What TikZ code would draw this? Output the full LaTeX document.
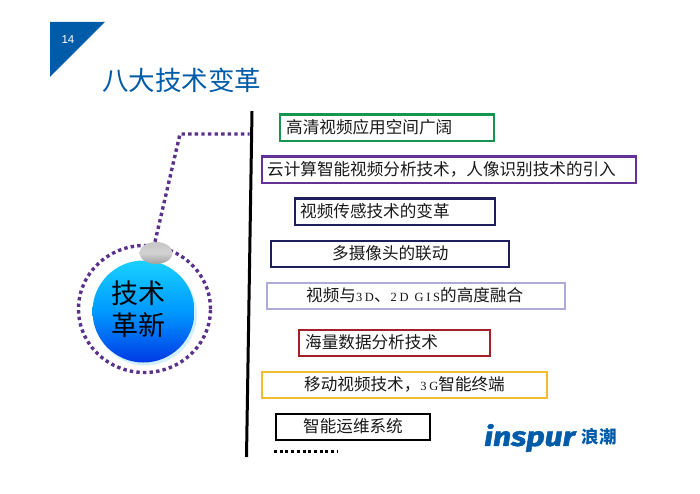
\documentclass[tikz,border=0pt]{standalone}
\usepackage{fontspec}
\setmainfont{Noto Sans CJK SC}
\newfontfamily\latinser{Liberation Serif}
\newfontfamily\latinsans{Liberation Sans}
\newfontfamily\logofont[FakeBold=1.6]{Fira Sans}
\usetikzlibrary{shapes.geometric,calc}
\definecolor{brandblue}{RGB}{0,92,169}
\definecolor{ringpurple}{RGB}{90,50,140}
\definecolor{boxgreen}{RGB}{20,150,80}
\definecolor{boxpurple}{RGB}{100,50,150}
\definecolor{boxnavy}{RGB}{30,30,95}
\definecolor{boxlav}{RGB}{175,170,220}
\definecolor{boxred}{RGB}{165,30,40}
\definecolor{boxgold}{RGB}{240,190,50}
\tikzset{
  itembox/.style={draw=#1,line width=2.2pt,minimum height=26.5pt,inner sep=0pt},
  itemtext/.style={anchor=west,inner sep=0pt,font=\fontsize{16.6pt}{18pt}\selectfont,text=black!90},
  purpledots/.style={ringpurple,line width=3.4pt,dash pattern=on 3.4pt off 3.2pt},
}
\newcommand{\lat}[1]{{\latinser\fontsize{12.5pt}{15pt}\selectfont\addfontfeature{LetterSpace=22}#1}}
\begin{document}
\begin{tikzpicture}[x=1pt,y=-1pt]
\useasboundingbox (0,0) rectangle (700,494);
\fill[white] (0,0) rectangle (700,494);
% corner
\fill[brandblue] (50,22) -- (105,22) -- (50,77) -- cycle;
\node[font=\latinsans\fontsize{11.5pt}{13pt}\selectfont,text=white] (pagenum) at (68,40) {14};
\node[anchor=west,inner sep=0pt,font=\fontsize{26.5pt}{30pt}\selectfont,text=brandblue] (title) at (102,80) {八大技术变革};
% spine
\coordinate (spinetop) at (252,111);
\coordinate (spinebot) at (246.5,457);
\draw[line width=3pt,black] (spinetop) -- (spinebot);
% boxes
\node[itembox=boxgreen,minimum width=214pt,anchor=north west] (b1) at (279,113.5) {};
\node[itemtext] (t1) at (286,127.5) {高清视频应用空间广阔};
\node[itembox=boxpurple,minimum width=374pt,anchor=north west] (b2) at (260.5,155.5) {};
\node[itemtext] (t2) at (267,169.5) {云计算智能视频分析技术，人像识别技术的引入};
\node[itembox=boxnavy,minimum width=200pt,anchor=north west] (b3) at (293.5,197.5) {};
\node[itemtext] (t3) at (300,211.5) {视频传感技术的变革};
\node[itembox=boxnavy,minimum width=238pt,anchor=north west] (b4) at (269.5,239.5) {};
\node[itemtext] (t4) at (332,253.5) {多摄像头的联动};
\node[itembox=boxlav,minimum width=298pt,anchor=north west] (b5) at (265.5,281.5) {};
\node[itemtext] (t5) at (306,295.5) {视频与\lat{3D}、\lat{2D GIS}的高度融合};
\node[itembox=boxred,minimum width=191pt,anchor=north west] (b6) at (297.5,328.5) {};
\node[itemtext] (t6) at (305,342.5) {海量数据分析技术};
\node[itembox=boxgold,minimum width=285pt,anchor=north west] (b7) at (260.5,370.5) {};
\node[itemtext] (t7) at (304,384.5) {移动视频技术，\lat{3G}智能终端};
\node[itembox=black,minimum width=154pt,anchor=north west] (b8) at (274.5,412.5) {};
\node[itemtext] (t8) at (303,426.5) {智能运维系统};
\coordinate (dotsA) at (274,451);
\coordinate (dotsB) at (337,451);
\draw[black,line width=3pt,dash pattern=on 3pt off 2.7pt] (dotsA) -- (dotsB);
% circle group
\fill[cyan!18] (145.5,314) circle (51.5pt);
\shade[top color=cyan!80!blue!90,bottom color=blue!75!cyan!90!black,middle color=cyan!60!blue] (143.5,311.5) circle (51pt);
\draw[purpledots] (144.5,309) ellipse [x radius=66pt,y radius=63.5pt];
\node[font=\fontsize{27pt}{32pt}\selectfont,align=center,text=black,inner sep=0pt] (core) at (138.5,309) {技术\\革新};
\coordinate (elbowA) at (180,134);
\coordinate (lineEnd) at (249.5,134);
\shade[top color=gray!45,bottom color=gray!75,middle color=gray!35] (156,253) ellipse [x radius=16.5pt,y radius=11pt];
\node[ellipse,minimum width=33pt,minimum height=22pt,inner sep=0pt] (knob) at (156,253) {};
\draw[purpledots] (knob.north) ++(-1,0) -- (elbowA) -- (lineEnd);
% logo
\node[anchor=west,inner sep=0pt,font=\logofont\bfseries\itshape\fontsize{27pt}{30pt}\selectfont,text=brandblue,xscale=1.18] (logo) at (484,438) {inspur};
\node[anchor=west,inner sep=0pt,font=\fontsize{17.5pt}{19pt}\bfseries\selectfont,text=brandblue] (logocn) at (581.5,437) {浪潮};
\end{tikzpicture}
\end{document}
